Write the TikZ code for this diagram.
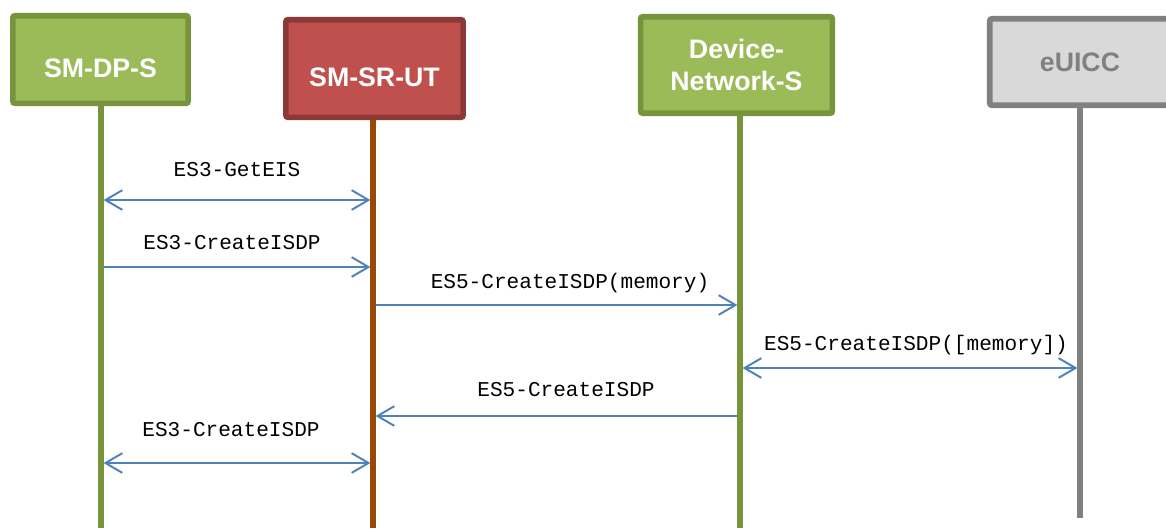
\documentclass[tikz,border=0pt]{standalone}
\usepackage{fontspec}
\setmainfont{Liberation Sans}
\newfontfamily\msgfont{Liberation Mono}
\usepackage{xcolor}
\usetikzlibrary{arrows.meta,positioning}

\definecolor{greenfill}{HTML}{9BBB59}
\definecolor{greendraw}{HTML}{77933C}
\definecolor{redfill}{HTML}{C0504D}
\definecolor{reddraw}{HTML}{8C3836}
\definecolor{brownline}{HTML}{984807}
\definecolor{grayfill}{HTML}{D9D9D9}
\definecolor{graydraw}{HTML}{808080}
\definecolor{msgblue}{HTML}{4F81BD}

\begin{document}
\begin{tikzpicture}[x=0.025cm, y=-0.025cm,
    actor/.style={
        rectangle, line width=4pt, rounded corners=1.5pt, align=center,
        font=\fontsize{19}{23}\selectfont\bfseries, text=white, inner sep=2pt
    },
    lowtext/.style={text height=25pt, text depth=0pt},
    lifeline/.style={line width=3.8pt},
    msg/.style={line width=1.4pt, msgblue, shorten <=1.8pt, shorten >=1.8pt,
        >={Straight Barb[length=12pt, width=14pt]}},
    msglabel/.style={font=\msgfont\fontsize{15}{18}\selectfont, inner sep=0pt}
]
    \useasboundingbox (0,0) rectangle (1166,528);

    % Entities
    \node[actor, lowtext, draw=greendraw, fill=greenfill,
          minimum width=4.38cm, minimum height=2.19cm] (dp) at (100.5,59.5) {SM-DP-S};
    \node[actor, lowtext, draw=reddraw, fill=redfill,
          minimum width=4.43cm, minimum height=2.44cm] (sr) at (374.5,68.5) {SM-SR-UT};
    \node[actor, draw=greendraw, fill=greenfill,
          minimum width=4.79cm, minimum height=2.41cm] (dev) at (736.5,65) {Device-\\Network-S};
    \node[actor, draw=graydraw, fill=grayfill, text=graydraw,
          minimum width=4.51cm, minimum height=2.16cm] (euicc) at (1080,62) {eUICC};

    % Lifelines
    \coordinate (dpEnd) at (101,528);
    \coordinate (srEnd) at (373,528);
    \coordinate (devEnd) at (740,528);
    \coordinate (euiccEnd) at (1080,518);
    \draw[lifeline, greendraw] (dpEnd |- dp.south) -- (dpEnd);
    \draw[lifeline, brownline] (srEnd |- sr.south) -- (srEnd);
    \draw[lifeline, greendraw] (devEnd |- dev.south) -- (devEnd);
    \draw[lifeline, graydraw] (euiccEnd |- euicc.south) -- (euiccEnd);

    % Messages
    \coordinate (m1) at (0,200);
    \coordinate (m2) at (0,267);
    \coordinate (m3) at (0,305);
    \coordinate (m4) at (0,368);
    \coordinate (m5) at (0,416);
    \coordinate (m6) at (0,463);

    \draw[msg, <->] (dpEnd |- m1) -- (srEnd |- m1);
    \node[msglabel] (l1) at (237,170) {ES3-GetEIS};

    \draw[msg, ->] (dpEnd |- m2) -- (srEnd |- m2);
    \node[msglabel] (l2) at (232,243) {ES3-CreateISDP};

    \draw[msg, ->] (srEnd |- m3) -- (devEnd |- m3);
    \node[msglabel] (l3) at (570,283) {ES5-CreateISDP(memory)};

    \draw[msg, <->] (devEnd |- m4) -- (euiccEnd |- m4);
    \node[msglabel] (l4) at (916,345) {ES5-CreateISDP([memory])};

    \draw[msg, ->] (devEnd |- m5) -- (srEnd |- m5);
    \node[msglabel] (l5) at (566,390) {ES5-CreateISDP};

    \draw[msg, <->] (dpEnd |- m6) -- (srEnd |- m6);
    \node[msglabel] (l6) at (231,430) {ES3-CreateISDP};
\end{tikzpicture}
\end{document}
